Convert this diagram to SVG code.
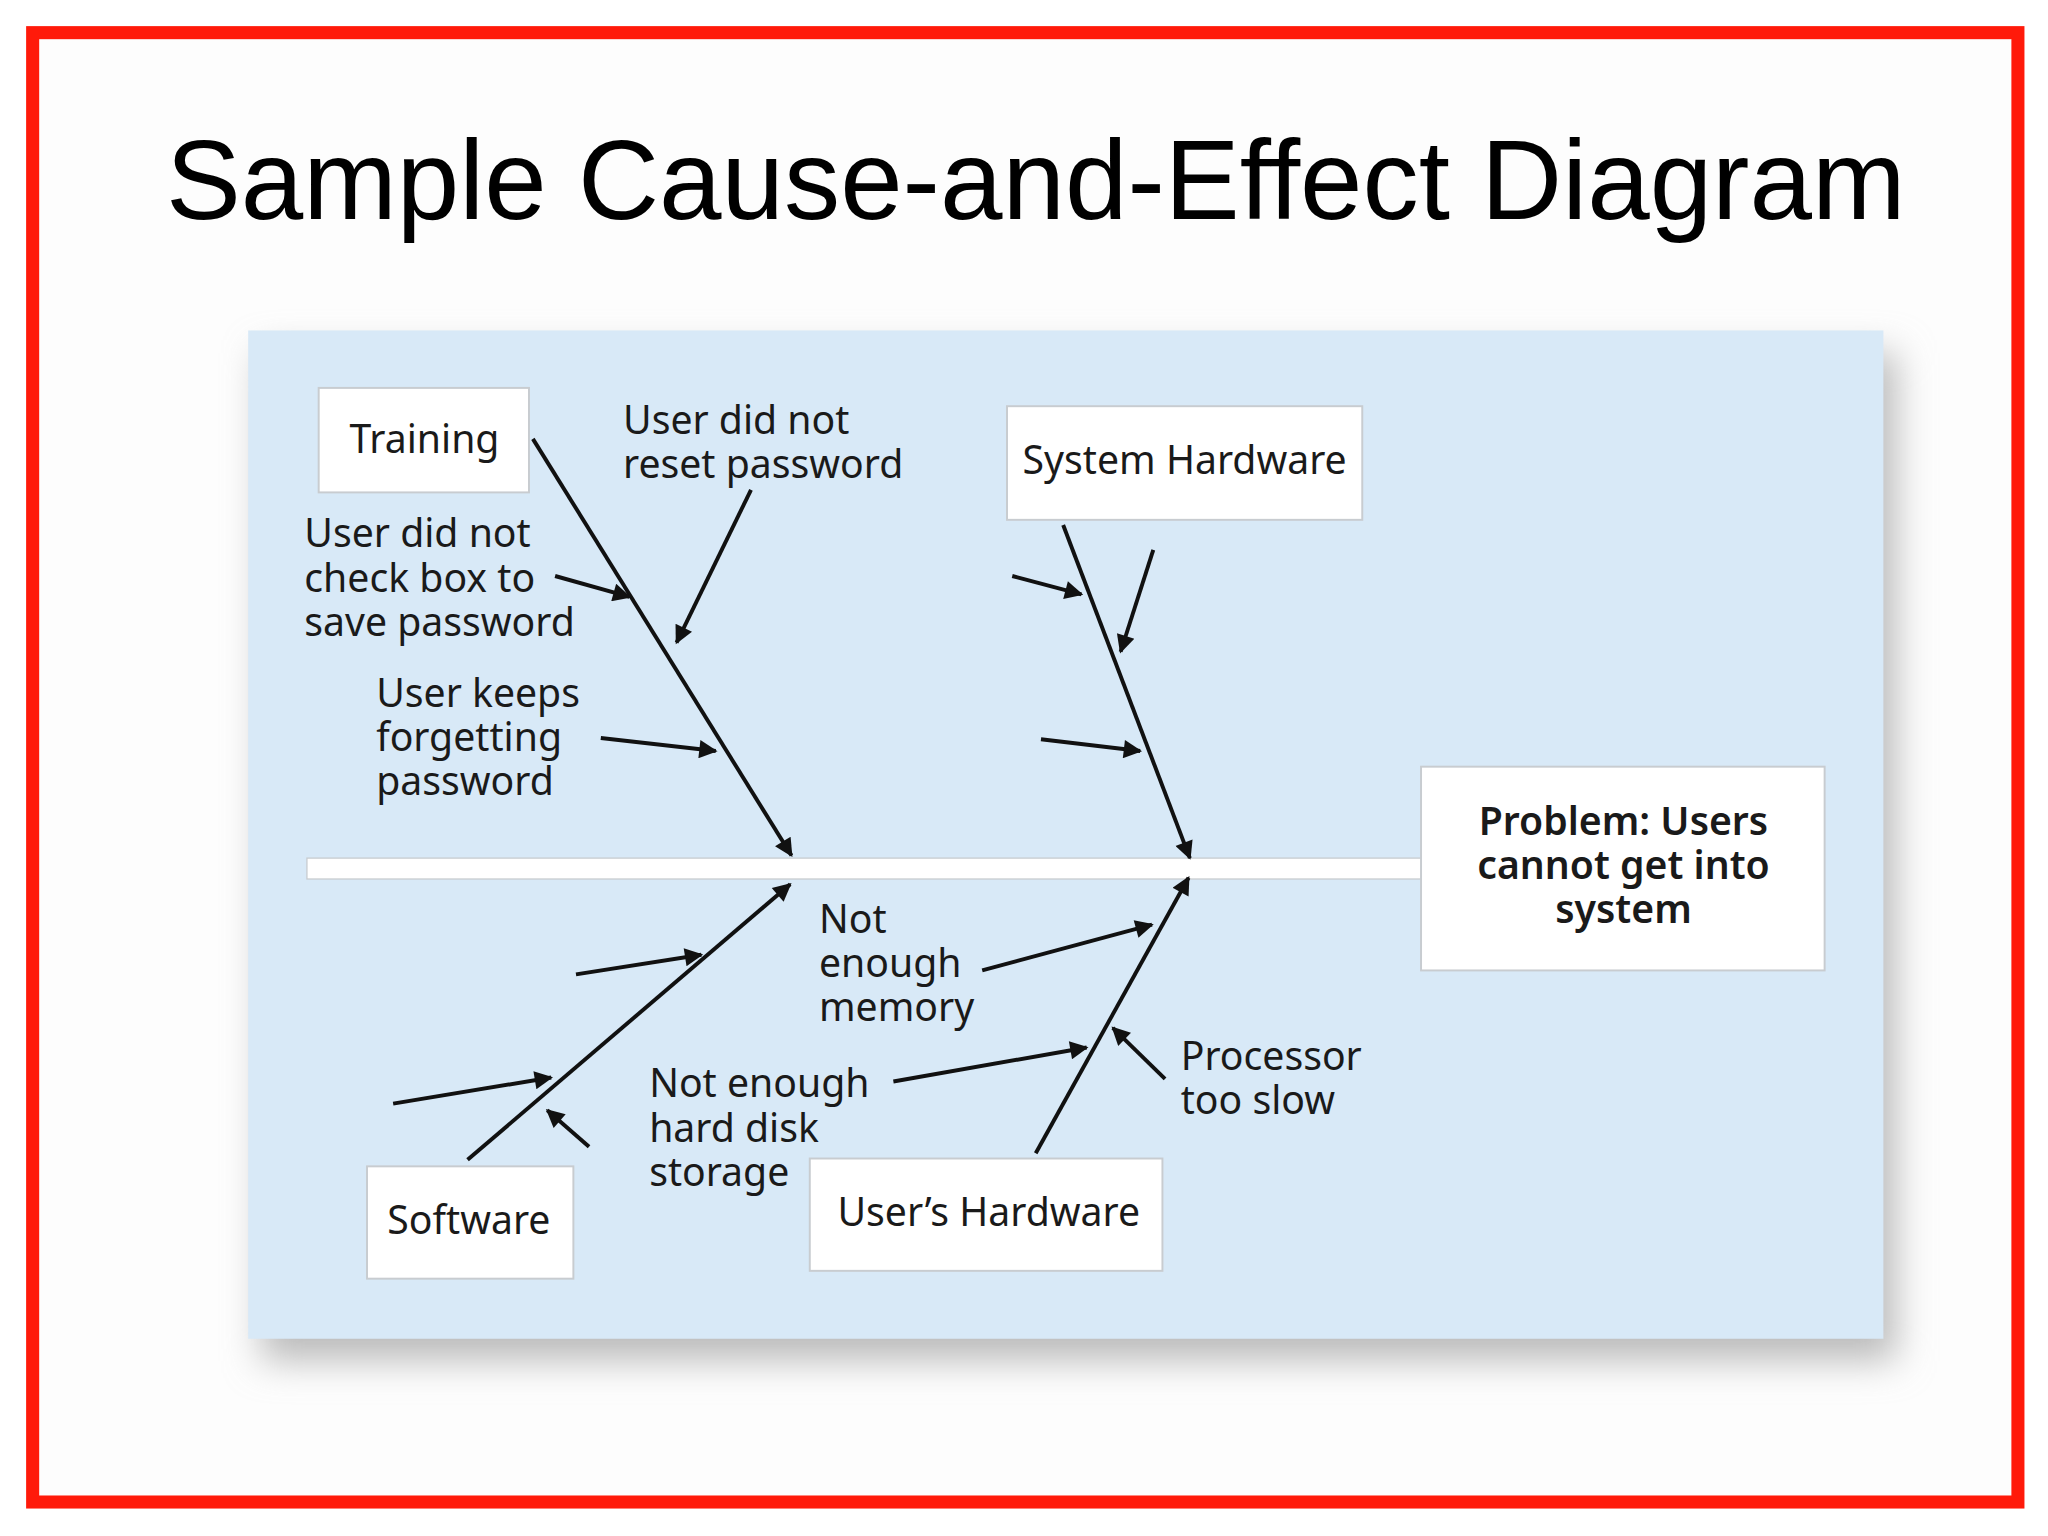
<svg xmlns="http://www.w3.org/2000/svg" width="2048" height="1536" viewBox="0 0 2048 1536">
<defs>
<marker id="ah" viewBox="0 0 10 10" refX="9" refY="5" markerWidth="18" markerHeight="14" orient="auto" markerUnits="userSpaceOnUse"><path d="M0,0 L10,5 L0,10 z" fill="#111"/></marker>
<filter id="sh" x="-10%" y="-10%" width="120%" height="130%"><feGaussianBlur stdDeviation="14"/></filter>
<style>
.t{font-family:"Noto Sans","Open Sans",sans-serif;font-size:30px;fill:#1a1a1a}
.b{fill:#fff;stroke:#c8ccd0;stroke-width:1.5}
.c{stroke:#111;stroke-width:3;fill:none;marker-end:url(#ah)}
</style>
</defs>
<rect width="2048" height="1536" fill="#fff"/>
<g transform="scale(1.3061)">
<rect x="25" y="25" width="1520" height="1125" fill="#fdfdfd" stroke="#ff1a0a" stroke-width="10"/>
<text x="793" y="168" text-anchor="middle" font-family="Liberation Sans, Arial, sans-serif" font-size="86" fill="#000">Sample Cause-and-Effect Diagram</text>
<rect x="200" y="270" width="1252" height="772" fill="#bbb" filter="url(#sh)"/>
<rect x="190" y="253" width="1252" height="772" fill="#d8e9f7"/>
<rect x="235" y="657" width="860" height="16" fill="#fff" stroke="#c8ccd0"/>
<g id="connectors">
<path class="c" d="M408,336 L606,655"/>
<path class="c" d="M575,375 L518,492"/>
<path class="c" d="M425,441 L482,457"/>
<path class="c" d="M460,565 L548,575"/>
<path class="c" d="M814,402 L911,657"/>
<path class="c" d="M775,441 L828,455"/>
<path class="c" d="M883,421 L858,499"/>
<path class="c" d="M797,566 L873,575"/>
<path class="c" d="M358,888 L605,677"/>
<path class="c" d="M441,746 L537,731"/>
<path class="c" d="M301,845 L422,825"/>
<path class="c" d="M451,878 L419,850"/>
<path class="c" d="M793,883 L910,672"/>
<path class="c" d="M752,743 L882,708"/>
<path class="c" d="M684,828 L832,802"/>
<path class="c" d="M892,826 L852,787"/>
</g>
<g id="problem"><rect class="b" x="1088" y="587" width="309" height="156"/>
<text class="t" font-weight="600" text-anchor="middle" font-size="27"><tspan x="1243" y="639">Problem: Users</tspan><tspan x="1243" y="673">cannot get into</tspan><tspan x="1243" y="707">system</tspan></text></g>
<g id="training"><rect class="b" x="244" y="297" width="161" height="80"/><text class="t" x="325" y="347" text-anchor="middle">Training</text></g>
<g id="syshw"><rect class="b" x="771" y="311" width="272" height="87"/><text class="t" x="907" y="363" text-anchor="middle">System Hardware</text></g>
<g id="software"><rect class="b" x="281" y="893" width="158" height="86"/><text class="t" x="359" y="945" text-anchor="middle">Software</text></g>
<g id="usershw"><rect class="b" x="620" y="887" width="270" height="86"/><text class="t" x="757" y="939" text-anchor="middle">User’s Hardware</text></g>
<g id="labels">
<text class="t"><tspan x="477" y="332">User did not</tspan><tspan x="477" y="366">reset password</tspan></text>
<text class="t"><tspan x="233" y="419">User did not</tspan><tspan x="233" y="453">check box to</tspan><tspan x="233" y="487">save password</tspan></text>
<text class="t"><tspan x="288" y="541">User keeps</tspan><tspan x="288" y="575">forgetting</tspan><tspan x="288" y="609">password</tspan></text>
<text class="t"><tspan x="627" y="714">Not</tspan><tspan x="627" y="748">enough</tspan><tspan x="627" y="782">memory</tspan></text>
<text class="t"><tspan x="497" y="840">Not enough</tspan><tspan x="497" y="874">hard disk</tspan><tspan x="497" y="908">storage</tspan></text>
<text class="t"><tspan x="904" y="819">Processor</tspan><tspan x="904" y="853">too slow</tspan></text>
</g>
</g>
</svg>
